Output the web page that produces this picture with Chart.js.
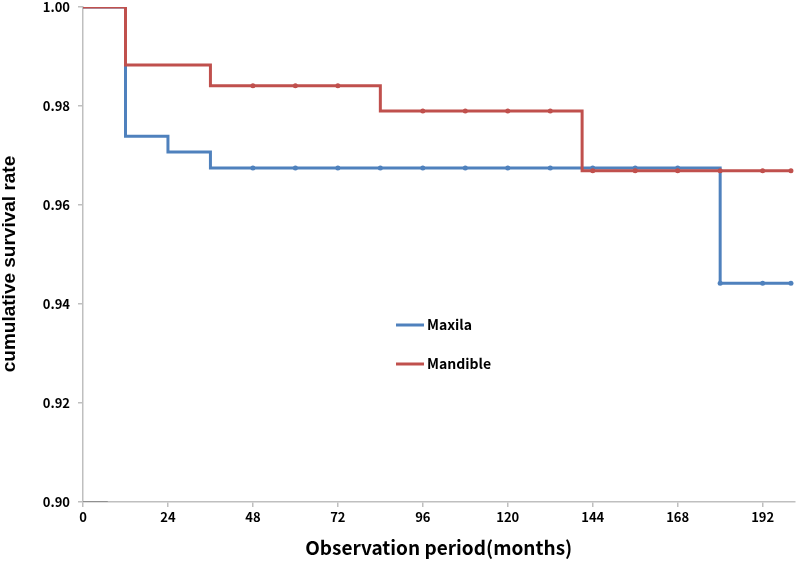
<!DOCTYPE html>
<html lang="en">
<head>
    <meta charset="UTF-8">
    <title>Cumulative survival rate</title>
    <script src="https://cdn.jsdelivr.net/npm/chart.js"></script>
    <style>
        html, body { margin: 0; padding: 0; background: #fff; }
        #wrap { width: 797px; height: 561px; position: relative; }
    </style>
</head>
<body>
    <div id="wrap"><canvas id="survChart"></canvas></div>
    <script>
        // Kaplan-Meier curves (months, survival)
        const maxilaTimes = [0, 12, 24, 36, 48, 60, 72, 84, 96, 108, 120, 132, 144, 156, 168, 180, 192, 200];
        const maxilaSurv  = [1.0, 0.9739, 0.9707, 0.9675, 0.9675, 0.9675, 0.9675, 0.9675, 0.9675, 0.9675, 0.9675, 0.9675, 0.9675, 0.9675, 0.9675, 0.9442, 0.9442, 0.9442];
        const maxilaCensored = [0, 0, 0, 0, 1, 1, 1, 1, 1, 1, 1, 1, 1, 1, 1, 1, 1, 1];

        const mandibleTimes = [0, 12, 36, 48, 60, 72, 84, 96, 108, 120, 132, 141, 144, 156, 168, 180, 192, 200];
        const mandibleSurv  = [1.0, 0.9883, 0.9841, 0.9841, 0.9841, 0.9841, 0.9790, 0.9790, 0.9790, 0.9790, 0.9790, 0.9669, 0.9669, 0.9669, 0.9669, 0.9669, 0.9669, 0.9669];
        const mandibleCensored = [0, 0, 0, 1, 1, 1, 0, 1, 1, 1, 1, 0, 1, 1, 1, 1, 1, 1];

        // short stray segment on the baseline
        const stubTimes = [0, 7];
        const stubSurv  = [0.90, 0.90];

        const yTicks = [0.90, 0.92, 0.94, 0.96, 0.98, 1.00];
        const xTicks = [0, 24, 48, 72, 96, 120, 144, 168, 192];

        const BLUE = '#4f81bd';
        const RED = '#c0504d';
        const AXIS = '#bfbfbf';
        const FONT = '"Noto Sans CJK JP", "Liberation Sans", sans-serif';

        function pts(xs, ys) {
            return xs.map((x, i) => ({ x: x, y: ys[i] }));
        }

        // legend sits inside the plot, and the y title is a bit below centre
        const labelsPlugin = {
            id: 'innerLabels',
            afterDraw(chart) {
                const ctx = chart.ctx;
                const items = [
                    { label: 'Maxila', color: BLUE, y: 325 },
                    { label: 'Mandible', color: RED, y: 364 }
                ];
                ctx.save();
                ctx.font = 'bold 14px ' + FONT;
                ctx.textBaseline = 'middle';
                items.forEach(it => {
                    ctx.strokeStyle = it.color;
                    ctx.lineWidth = 3;
                    ctx.beginPath();
                    ctx.moveTo(396, it.y);
                    ctx.lineTo(424, it.y);
                    ctx.stroke();
                    ctx.fillStyle = '#000';
                    ctx.fillText(it.label, 427, it.y);
                });

                ctx.translate(10, 264);
                ctx.rotate(-Math.PI / 2);
                ctx.font = 'bold 19px "Liberation Sans", Arial, sans-serif';
                ctx.textAlign = 'center';
                ctx.fillText('cumulative survival rate', 0, 0);
                ctx.restore();
            }
        };

        const ctx = document.getElementById('survChart').getContext('2d');
        new Chart(ctx, {
            type: 'line',
            data: {
                datasets: [
                    {
                        label: 'Mandible',
                        data: pts(mandibleTimes, mandibleSurv),
                        borderColor: RED,
                        backgroundColor: RED,
                        borderWidth: 3,
                        stepped: 'before',
                        pointRadius: mandibleCensored.map(c => c ? 2.5 : 0),
                        pointBorderWidth: 0,
                        pointHoverRadius: 0
                    },
                    {
                        label: 'Maxila',
                        data: pts(maxilaTimes, maxilaSurv),
                        borderColor: BLUE,
                        backgroundColor: BLUE,
                        borderWidth: 3,
                        stepped: 'before',
                        pointRadius: maxilaCensored.map(c => c ? 2.5 : 0),
                        pointBorderWidth: 0,
                        pointHoverRadius: 0
                    },
                    {
                        label: 'stub',
                        data: pts(stubTimes, stubSurv),
                        borderColor: '#808080',
                        borderWidth: 1.5,
                        pointRadius: 0
                    }
                ]
            },
            options: {
                responsive: true,
                maintainAspectRatio: false,
                animation: false,
                layout: { padding: { top: 7, right: 0, left: 0, bottom: 0 } },
                scales: {
                    x: {
                        type: 'linear',
                        min: 0,
                        max: 201,
                        afterBuildTicks: scale => {
                            scale.ticks = xTicks.map(v => ({ value: v }));
                        },
                        afterFit: scale => {
                            scale.height = 59;
                            scale.paddingLeft = 0;
                            scale.paddingRight = 0;
                        },
                        ticks: {
                            color: '#000',
                            font: { family: FONT, size: 13, weight: 'bold' },
                            padding: 2,
                            maxRotation: 0
                        },
                        grid: { drawOnChartArea: false, drawTicks: true, tickLength: 5, color: AXIS, lineWidth: 1.5 },
                        border: { color: AXIS, width: 1.5 },
                        title: {
                            display: true,
                            text: 'Observation period(months)',
                            color: '#000',
                            font: { family: FONT, size: 19, weight: 'bold' },
                            padding: { top: 4, bottom: 2 }
                        }
                    },
                    y: {
                        type: 'linear',
                        min: 0.9,
                        max: 1.0,
                        afterBuildTicks: scale => {
                            scale.ticks = yTicks.map(v => ({ value: v }));
                        },
                        afterFit: scale => {
                            scale.width = 83;
                            scale.paddingTop = 0;
                            scale.paddingBottom = 0;
                        },
                        ticks: {
                            color: '#000',
                            font: { family: FONT, size: 13, weight: 'bold' },
                            padding: 8,
                            callback: v => v.toFixed(2)
                        },
                        grid: { drawOnChartArea: false, drawTicks: true, tickLength: 5, color: AXIS, lineWidth: 1.5 },
                        border: { color: AXIS, width: 1.5 }
                    }
                },
                plugins: {
                    legend: { display: false },
                    tooltip: { enabled: false }
                }
            },
            plugins: [labelsPlugin]
        });
    </script>
</body>
</html>
